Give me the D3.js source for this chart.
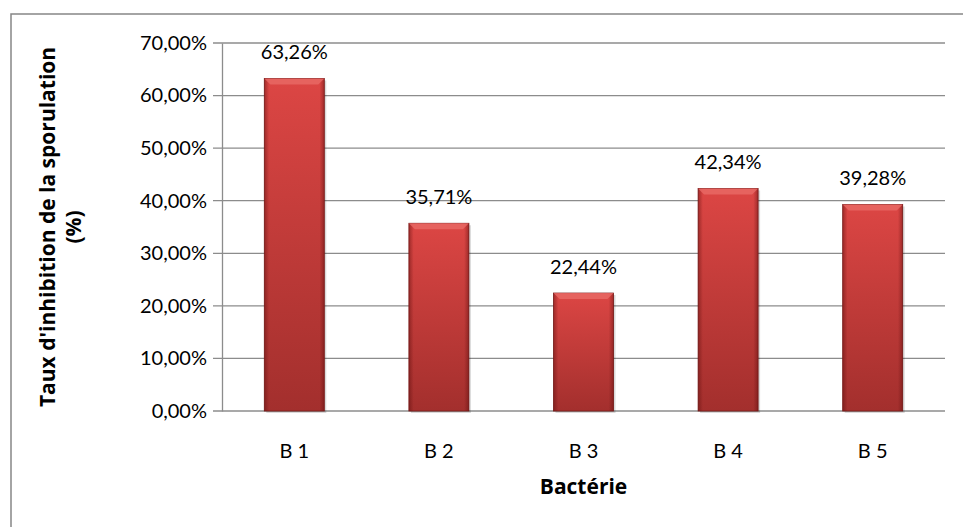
<!DOCTYPE html>
<html lang="fr">
<head>
<meta charset="UTF-8">
<title>Taux d'inhibition</title>
<script src="https://cdnjs.cloudflare.com/ajax/libs/d3/7.8.5/d3.min.js"></script>
<style>
  body { margin: 0; background: #fff; }
  text { font-family: Lato, "Open Sans", sans-serif; fill: #000; }
</style>
</head>
<body>
<div id="chart"></div>
<script>
// données
const categories = ['B 1', 'B 2', 'B 3', 'B 4', 'B 5'];
const values = [63.26, 35.71, 22.44, 42.34, 39.28];
const yTicks = [0, 10, 20, 30, 40, 50, 60, 70];

const width = 963, height = 527;
const margin = { left: 222, right: 18, top: 43, bottom: 116 };

const fmt = v => d3.format('.2f')(v).replace('.', ',') + '%';

const svg = d3.select('#chart').append('svg')
    .attr('width', width)
    .attr('height', height);

// dégradés des barres
const defs = svg.append('defs');
const gv = defs.append('linearGradient').attr('id', 'barV')
    .attr('x1', 0).attr('y1', 0).attr('x2', 0).attr('y2', 1);
gv.append('stop').attr('offset', '0%').attr('stop-color', '#dc4644');
gv.append('stop').attr('offset', '100%').attr('stop-color', '#a32f2d');
const gh = defs.append('linearGradient').attr('id', 'barH')
    .attr('x1', 0).attr('y1', 0).attr('x2', 1).attr('y2', 0);
gh.append('stop').attr('offset', '0%').attr('stop-color', '#5a0c0c').attr('stop-opacity', 0.45);
gh.append('stop').attr('offset', '8%').attr('stop-color', '#5a0c0c').attr('stop-opacity', 0);
gh.append('stop').attr('offset', '92%').attr('stop-color', '#5a0c0c').attr('stop-opacity', 0);
gh.append('stop').attr('offset', '100%').attr('stop-color', '#5a0c0c').attr('stop-opacity', 0.45);

// cadre
svg.append('rect')
    .attr('x', 11).attr('y', 14)
    .attr('width', width + 20).attr('height', height + 20)
    .attr('fill', 'none').attr('stroke', '#868686').attr('stroke-width', 1.5);

const x = d3.scaleBand()
    .domain(categories)
    .range([margin.left, width - margin.right])
    .paddingInner(0.585)
    .paddingOuter(0.2925);

const y = d3.scaleLinear()
    .domain([0, 70])
    .range([height - margin.bottom, margin.top]);

// grille
svg.append('g')
    .selectAll('line')
    .data(yTicks)
    .join('line')
    .attr('x1', margin.left - 9)
    .attr('x2', width - margin.right)
    .attr('y1', d => y(d)).attr('y2', d => y(d))
    .attr('stroke', '#8c8c8c').attr('stroke-width', 1.3);

// axe Y
const yAxis = svg.append('g')
    .attr('transform', `translate(${margin.left},0)`)
    .call(d3.axisLeft(y).tickValues(yTicks).tickSize(0).tickPadding(15).tickFormat(d => fmt(d)));
yAxis.select('.domain').attr('stroke', '#8c8c8c').attr('stroke-width', 1.3);
yAxis.selectAll('text').style('font-size', '20px')
    .style('font-family', 'Lato, sans-serif');

// axe X
const xAxis = svg.append('g')
    .attr('transform', `translate(0,${y(0)})`)
    .call(d3.axisBottom(x).tickSize(0).tickPadding(33));
xAxis.select('.domain').remove();
xAxis.selectAll('text').style('font-size', '20px')
    .style('font-family', 'Lato, sans-serif');

// barres
const bars = svg.append('g').selectAll('g')
    .data(values)
    .join('g');

bars.append('rect')
    .attr('x', (d, i) => x(categories[i]) + 2)
    .attr('y', d => y(d) + 2)
    .attr('width', x.bandwidth())
    .attr('height', d => y(0) - y(d))
    .attr('fill', '#000').attr('opacity', 0.15);

bars.append('rect')
    .attr('x', (d, i) => x(categories[i]))
    .attr('y', d => y(d))
    .attr('width', x.bandwidth())
    .attr('height', d => y(0) - y(d))
    .attr('fill', 'url(#barV)')
    .attr('stroke', '#7a1d1b').attr('stroke-width', 0.8);

bars.append('rect')
    .attr('x', (d, i) => x(categories[i]))
    .attr('y', d => y(d))
    .attr('width', x.bandwidth())
    .attr('height', d => y(0) - y(d))
    .attr('fill', 'url(#barH)');

// biseau du haut
bars.append('path')
    .attr('d', (d, i) => {
        const x0 = x(categories[i]), x1 = x0 + x.bandwidth(), t = y(d);
        return `M${x0},${t}L${x1},${t}L${x1 - 6},${t + 6}L${x0 + 6},${t + 6}Z`;
    })
    .attr('fill', '#e86a66').attr('opacity', 0.8);

// étiquettes
svg.append('g').selectAll('text')
    .data(values)
    .join('text')
    .attr('x', (d, i) => x(categories[i]) + x.bandwidth() / 2)
    .attr('y', d => y(d) - 19)
    .attr('text-anchor', 'middle')
    .style('font-size', '20px')
    .text(d => fmt(d));

// titres
svg.append('text')
    .attr('x', (margin.left + width - margin.right) / 2)
    .attr('y', 494)
    .attr('text-anchor', 'middle')
    .style('font-size', '21px').style('font-weight', 'bold')
    .style('font-family', '"Open Sans", sans-serif')
    .text('Bactérie');

const yt = svg.append('text')
    .attr('transform', `translate(55,${(y(0) + y(70)) / 2}) rotate(-90)`)
    .attr('text-anchor', 'middle')
    .style('font-size', '21px').style('font-weight', 'bold')
    .style('font-family', '"Open Sans", sans-serif');
yt.append('tspan').attr('x', 0).attr('dy', 0).text("Taux d'inhibition de la sporulation");
yt.append('tspan').attr('x', 0).attr('dy', 26).text('(%)');
</script>
</body>
</html>
